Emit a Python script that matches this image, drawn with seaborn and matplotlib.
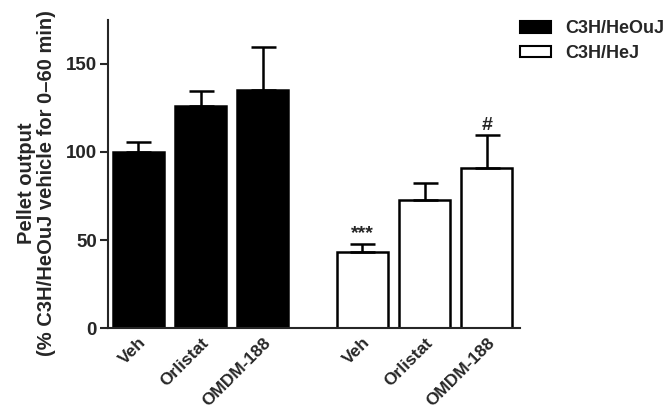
import matplotlib
matplotlib.use("Agg")
import matplotlib.pyplot as plt
from matplotlib.patches import Patch
import seaborn as sns
import pandas as pd
import numpy as np

treatments = ["Veh", "Orlistat", "OMDM-188"]
strains = ["C3H/HeOuJ", "C3H/HeJ"]
heouj_mean = [100, 126, 135]
heouj_sem = [5.5, 8.5, 24.5]
hej_mean = [43, 73, 91]
hej_sem = [5, 9.5, 18.5]
annotations = ["***", "", "#"]
y_ticks = [0, 50, 100, 150]

sns.set_style("ticks")
plt.rcParams['font.family'] = ['Liberation Sans', 'DejaVu Sans']
plt.rcParams['font.weight'] = 'bold'

group_gap = 1.6
pos = list(np.arange(3, dtype=float)) + list(np.arange(3) + 2 + group_gap)
df = pd.DataFrame({
    "pos": pos,
    "value": heouj_mean + hej_mean,
    "sem": heouj_sem + hej_sem,
    "strain": [strains[0]] * 3 + [strains[1]] * 3,
    "label": treatments + treatments,
})

fig = plt.figure(figsize=(6.7, 4.16), dpi=100)
ax = fig.add_axes([0.161, 0.2115, 0.615, 0.7405])

sns.barplot(data=df, x="pos", y="value", hue="strain", native_scale=True,
            dodge=False, width=0.82, palette={strains[0]: "black", strains[1]: "white"},
            edgecolor="black", linewidth=1.8, errorbar=None, legend=False, ax=ax)

zeros = np.zeros(len(df))
ax.errorbar(df["pos"], df["value"], yerr=[zeros, df["sem"]], fmt="none",
            ecolor="black", elinewidth=1.8, capsize=9, capthick=1.8, zorder=1)

for p, m, s, a in zip(df["pos"][3:], hej_mean, hej_sem, annotations):
    if a:
        ax.text(p, m + s + 1.0, a, ha="center", va="bottom", fontsize=14, fontweight="bold")

ax.set_xlim(-0.49, pos[-1] + 0.53)
ax.set_ylim(0, 175)
ax.set_yticks(y_ticks)
ax.set_yticklabels([str(t) for t in y_ticks], fontsize=13.5, fontweight="bold")
ax.set_xticks(df["pos"])
ax.set_xticklabels(df["label"], rotation=45, ha="right", rotation_mode="anchor",
                   fontsize=12.5, fontweight="bold")
ax.tick_params(axis="x", length=0, pad=5)
ax.tick_params(axis="y", length=6, width=1.5, pad=2)
ax.set_xlabel("")
ax.set_ylabel("Pellet output\n(% C3H/HeOuJ vehicle for 0\u201360 min)", fontsize=14.5,
              fontweight="bold", linespacing=1.1)
ax.yaxis.set_label_coords(-0.125, 0.47)
sns.despine(ax=ax)
for sp in ["left", "bottom"]:
    ax.spines[sp].set_linewidth(1.5)

handles = [Patch(facecolor="black", edgecolor="black", linewidth=1.5, label=strains[0]),
           Patch(facecolor="white", edgecolor="black", linewidth=1.5, label=strains[1])]
fig.legend(handles=handles, loc="upper left", bbox_to_anchor=(0.752, 0.99), frameon=False,
           prop={"size": 13, "weight": "bold"}, handlelength=1.7, handleheight=0.6,
           labelspacing=0.4, handletextpad=0.8)

fig.savefig("out.png", dpi=100)
